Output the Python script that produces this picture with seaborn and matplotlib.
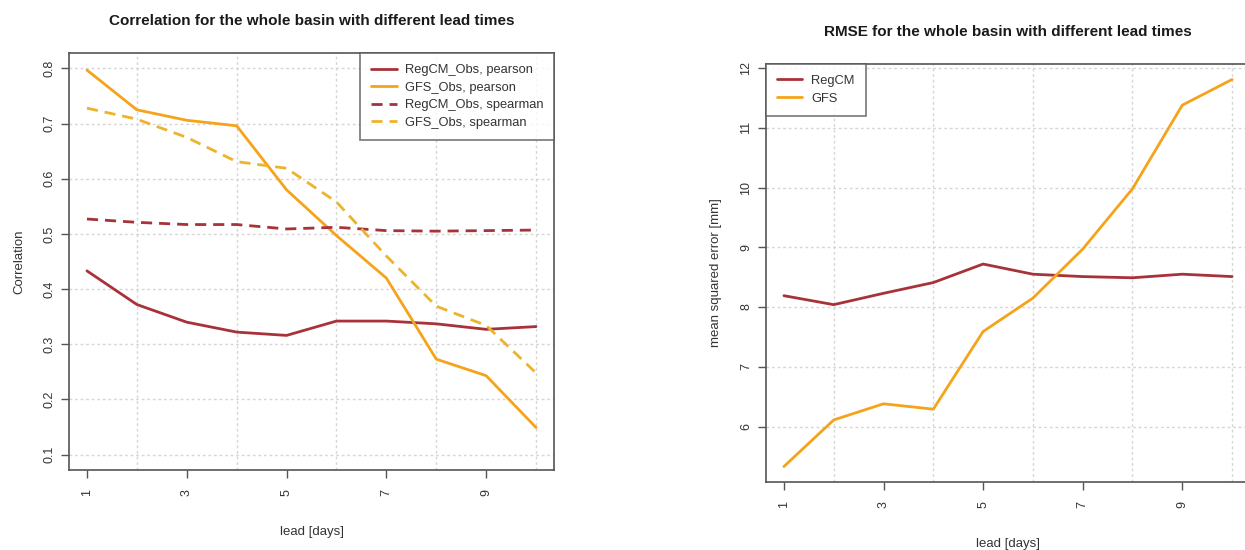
import numpy as np
import pandas as pd
import seaborn as sns
import matplotlib
matplotlib.use("Agg")
import matplotlib.pyplot as plt

# ---------------- data ----------------
lead = [1, 2, 3, 4, 5, 6, 7, 8, 9, 10]

regcm_pearson = [0.433, 0.372, 0.340, 0.322, 0.316, 0.342, 0.342, 0.337, 0.327, 0.332]
gfs_pearson = [0.797, 0.725, 0.706, 0.696, 0.580, 0.497, 0.420, 0.273, 0.243, 0.149]
regcm_spearman = [0.527, 0.521, 0.517, 0.517, 0.509, 0.512, 0.506, 0.505, 0.506, 0.507]
gfs_spearman = [0.728, 0.708, 0.675, 0.631, 0.619, 0.558, 0.460, 0.369, 0.334, 0.248]

rmse_regcm = [8.19, 8.04, 8.23, 8.41, 8.72, 8.55, 8.51, 8.49, 8.55, 8.51]
rmse_gfs = [5.33, 6.11, 6.38, 6.29, 7.59, 8.15, 8.97, 9.98, 11.38, 11.81]

corr_labels = ["RegCM_Obs, pearson", "GFS_Obs, pearson",
               "RegCM_Obs, spearman", "GFS_Obs, spearman"]
rmse_labels = ["RegCM", "GFS"]

x_ticks = [1, 3, 5, 7, 9]
x_grid = [2, 4, 6, 8, 10]
corr_ticks = [0.1, 0.2, 0.3, 0.4, 0.5, 0.6, 0.7, 0.8]
rmse_ticks = [6, 7, 8, 9, 10, 11, 12]

titles = ["Correlation for the whole basin with different lead times",
          "RMSE for the whole basin with different lead times"]
xlabel = "lead [days]"
ylabels = ["Correlation", "mean squared error [mm]"]

# ---------------- style ----------------
sns.set_theme(style="white")
plt.rcParams['font.family'] = ['Liberation Sans', 'DejaVu Sans']

RED = "#a8323a"
ORANGE = "#f5a31a"
GOLD = "#ecb42c"
GRID = "#d6d6d6"
FRAME = "#555555"
TXT = "#333333"

fig = plt.figure(figsize=(12.45, 5.5), dpi=100)
W, H = 1245, 550
def box(l, t, r, b):
    return [l / W, 1 - b / H, (r - l) / W, (b - t) / H]

ax1 = fig.add_axes(box(69, 53, 554, 470))
ax2 = fig.add_axes(box(766, 64, 1250, 482))

corr_df = pd.DataFrame({"lead": lead * 4,
                        "value": regcm_pearson + gfs_pearson + regcm_spearman + gfs_spearman,
                        "series": sum([[s] * len(lead) for s in corr_labels], [])})
rmse_df = pd.DataFrame({"lead": lead * 2,
                        "value": rmse_regcm + rmse_gfs,
                        "series": sum([[s] * len(lead) for s in rmse_labels], [])})

corr_styles = {corr_labels[0]: (RED, "-"), corr_labels[1]: (ORANGE, "-"),
               corr_labels[2]: (RED, (0, (4, 2.5))), corr_labels[3]: (GOLD, (0, (4, 2.5)))}
for name in corr_labels:
    c, ls = corr_styles[name]
    sub = corr_df[corr_df["series"] == name]
    sns.lineplot(data=sub, x="lead", y="value", ax=ax1, color=c, linestyle=ls,
                 linewidth=2.0, label=name, zorder=3)

rmse_styles = {"RegCM": RED, "GFS": ORANGE}
for name in rmse_labels:
    sub = rmse_df[rmse_df["series"] == name]
    sns.lineplot(data=sub, x="lead", y="value", ax=ax2, color=rmse_styles[name],
                 linewidth=2.0, label=name, zorder=3)

def pad4(lo, hi):
    d = (hi - lo) * 0.04
    return lo - d, hi + d

for ax, yt, ylab in [(ax1, corr_ticks, ylabels[0]), (ax2, rmse_ticks, ylabels[1])]:
    ax.set_xlim(*pad4(min(lead), max(lead)))
    ax.set_xticks(x_ticks)
    ax.set_xticks(x_grid, minor=True)
    ax.set_yticks(yt)
    ax.set_xticklabels([str(v) for v in x_ticks], rotation=90, fontsize=9, color=TXT)
    ax.set_yticklabels([f"{v:g}" for v in yt], rotation=90, va="center", fontsize=9,
                       color=TXT)
    ax.tick_params(axis="both", which="major", direction="out", length=6, width=1,
                   color=FRAME, bottom=True, left=True)
    ax.tick_params(axis="x", which="major", pad=8)
    ax.tick_params(axis="y", which="major", pad=4)
    ax.tick_params(axis="x", which="minor", length=0, bottom=False)
    ax.grid(False)
    ax.grid(True, axis="y", which="major", color=GRID, linestyle=(0, (2, 2)), linewidth=1)
    ax.grid(True, axis="x", which="minor", color=GRID, linestyle=(0, (2, 2)), linewidth=1)
    for s in ax.spines.values():
        s.set_visible(True)
        s.set_color(FRAME)
        s.set_linewidth(1.2)
    ax.set_xlabel(xlabel, fontsize=9.5, labelpad=21, color=TXT)
    ax.set_ylabel(ylab, fontsize=9.5, labelpad=13, color=TXT)

ax1.set_ylim(*pad4(0.1, 0.8))
ax2.set_ylim(*pad4(min(rmse_gfs), max(rmse_gfs)))
ax1.set_title(titles[0], fontsize=11, fontweight="bold", pad=20, color="#1a1a1a")
ax2.set_title(titles[1], fontsize=11, fontweight="bold", pad=20, color="#1a1a1a")

leg1 = ax1.legend(loc="upper right", borderaxespad=0, fontsize=9.3, frameon=True,
                  fancybox=False, edgecolor=FRAME, handlelength=2.0, handletextpad=0.6,
                  labelspacing=0.43, borderpad=0.85)
leg1.get_frame().set_linewidth(1.2)
leg2 = ax2.legend(loc="upper left", borderaxespad=0, fontsize=9.3, frameon=True,
                  fancybox=False, edgecolor=FRAME, handlelength=1.9, handletextpad=0.75,
                  labelspacing=0.43, borderpad=0.85)
leg2.get_frame().set_linewidth(1.2)
for leg in (leg1, leg2):
    for t in leg.get_texts():
        t.set_color(TXT)

fig.savefig("out.png", dpi=100, facecolor="white")
